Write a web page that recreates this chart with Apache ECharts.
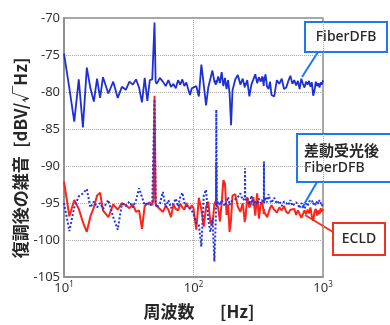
<!DOCTYPE html>
<html>
<head>
<meta charset="utf-8">
<script src="https://cdn.jsdelivr.net/npm/echarts@6/dist/echarts.min.js"></script>
<style>
    html, body { margin: 0; padding: 0; background: #fff; }
    #noise-chart { width: 390px; height: 325px; }
</style>
</head>
<body>
<div id="noise-chart"></div>
<script>
    // 周波数 [Hz]
    const freqs = [10, 11, 12, 13, 14, 15, 16, 17, 18, 19, 20,
        22, 24, 26, 28, 30, 32, 34, 36, 38, 40, 42, 44, 46, 48, 49, 50, 51, 52,
        55, 58, 61, 64, 67, 70, 73, 76, 79, 82, 85, 88, 91, 94, 97, 100,
        105, 110, 115, 120, 125, 130, 135, 140, 145, 149, 150, 151, 155, 160, 165, 170, 175, 180, 185, 190, 195, 200,
        210, 220, 230, 240, 249, 250, 251, 260, 270, 280, 290, 300, 310, 320, 330, 340, 349, 350, 351, 360, 370, 380, 390, 400,
        420, 440, 460, 480, 500, 520, 540, 560, 580, 600, 620, 640, 660, 680, 700, 720, 740, 760, 780, 800,
        820, 840, 860, 880, 900, 920, 940, 960, 980, 1000];

    // FiberDFB [dBV/√Hz]
    const fiberDfb = [-74.8, -79.5, -84.0, -78.3, -84.8, -76.7, -79.5, -81.3, -78.2, -80.8, -78.0,
        -80.2, -78.6, -80.8, -79.3, -79.7, -78.6, -79.0, -78.3, -79.4, -81.4, -78.1, -81.2, -78.4, -78.3, -78.5, -70.6, -78.6, -78.9,
        -78.1, -78.6, -79.2, -78.4, -79.3, -78.9, -79.5, -78.4, -79.0, -78.3, -79.2, -78.7, -79.6, -80.4, -79.5, -79.6,
        -79.2, -80.6, -76.3, -79.0, -81.8, -79.4, -78.2, -77.1, -78.6, -79.0, -78.4, -78.8, -77.9, -78.8, -77.3, -79.2, -78.1, -79.6, -78.4, -80.2, -84.5, -79.8,
        -78.3, -77.7, -79.0, -78.2, -79.4, -78.8, -79.2, -78.4, -80.6, -79.0, -78.3, -77.6, -78.8, -78.0, -78.6, -77.9, -79.2, -78.0, -78.6, -77.6, -79.3, -79.6, -78.6, -80.4,
        -80.6, -78.4, -78.9, -78.2, -79.6, -79.4, -78.5, -77.8, -78.9, -78.4, -79.1, -78.5, -79.6, -78.2, -78.9, -79.4, -78.6, -79.0, -78.5, -79.3,
        -78.7, -80.5, -79.8, -78.6, -79.2, -78.8, -79.4, -78.7, -79.0, -78.4];

    // ECLD
    const ecld = [-92.1, -96.8, -94.6, -95.8, -97.6, -98.9, -96.8, -95.6, -94.0, -93.6, -96.0,
        -96.9, -95.2, -95.9, -95.0, -95.3, -95.7, -95.2, -96.2, -96.0, -98.5, -95.4, -95.1, -94.9, -95.3, -94.6, -80.5, -95.0, -95.4,
        -95.8, -96.2, -95.4, -95.9, -96.9, -95.2, -95.8, -96.0, -95.1, -95.6, -95.9, -95.0, -95.5, -95.8, -95.3, -95.7,
        -98.6, -94.3, -95.9, -98.2, -95.5, -94.8, -97.6, -98.0, -95.1, -94.7, -89.5, -95.2, -95.6, -97.5, -95.0, -91.9, -92.4, -96.6, -95.2, -98.9, -97.2, -94.0,
        -93.8, -95.5, -96.2, -95.0, -97.6, -96.8, -97.3, -94.2, -95.6, -95.0, -94.2, -96.7, -93.7, -97.1, -95.2, -94.8, -96.5, -95.8, -96.2, -96.0, -96.9, -96.3, -95.7, -95.3,
        -95.9, -96.3, -95.6, -96.0, -95.4, -96.2, -96.4, -95.9, -96.1, -95.8, -96.6, -96.0, -96.5, -97.0, -97.2, -96.0, -96.5, -95.9, -96.4, -95.6,
        -96.8, -97.4, -96.2, -95.8, -96.7, -96.0, -96.5, -95.7, -96.2, -95.8];

    // 差動受光後 FiberDFB
    const diffFiberDfb = [-95.0, -98.8, -95.6, -94.1, -93.7, -93.1, -95.6, -94.8, -95.6, -95.0, -95.8,
        -94.6, -96.9, -98.6, -95.1, -95.4, -94.8, -95.6, -94.6, -93.0, -94.2, -95.3, -94.9, -95.4, -95.0, -94.8, -81.0, -95.2, -95.6,
        -95.1, -93.5, -95.6, -94.6, -95.7, -95.0, -94.4, -95.5, -94.2, -93.6, -95.0, -95.4, -95.2, -95.7, -96.0, -96.5,
        -97.7, -98.0, -100.9, -94.0, -93.2, -97.3, -98.9, -97.0, -102.9, -96.5, -82.4, -95.5, -94.8, -95.3, -94.6, -95.1, -95.4, -94.9, -94.2, -95.3, -94.8, -95.0,
        -94.5, -94.2, -93.7, -94.6, -94.4, -90.3, -94.6, -94.3, -95.2, -94.0, -95.3, -94.7, -95.2, -94.4, -95.0, -94.6, -94.9, -89.4, -95.0, -94.2, -94.9, -93.8, -94.6, -95.0,
        -94.3, -95.1, -94.7, -95.4, -94.8, -95.0, -95.3, -94.6, -95.4, -95.6, -94.9, -95.2, -95.7, -95.0, -95.3, -95.8, -95.1, -95.4, -94.8, -95.0,
        -94.6, -95.2, -94.9, -95.3, -94.7, -95.1, -94.6, -95.0, -95.4, -95.0];

    const yTicks = { min: -105, max: -70, interval: 5 };

    const toPairs = (values) => freqs.map((f, i) => [f, values[i]]);

    const boxBlue = "#1f78f2";
    const boxRed = "#f0321e";
    const textColor = "#262626";
    const jpBold = "bold 17px 'Noto Sans CJK JP', sans-serif";

    let eChart = echarts.init(document.getElementById("noise-chart"), null, { renderer: "canvas" });
    eChart.setOption({
        animation: false,
        textStyle: {
            fontFamily: "'Noto Sans', 'Noto Sans CJK JP', sans-serif"
        },
        grid: {
            left: 64,
            right: 67,
            top: 18,
            bottom: 48,
            show: true,
            borderColor: "#8a8a8a",
            borderWidth: 1.5,
            backgroundColor: "transparent"
        },
        xAxis: {
            type: "log",
            logBase: 10,
            min: 10,
            max: 1000,
            axisLine: { show: true, lineStyle: { color: "#8a8a8a", width: 1.5 } },
            axisTick: { show: false },
            axisLabel: {
                margin: 4,
                color: "#333",
                formatter: (v) => "10{s|" + Math.round(Math.log10(v)) + "}",
                rich: {
                    s: { fontSize: 8, verticalAlign: "top", padding: [0, 0, 6, 0], color: "#333" }
                },
                fontSize: 13
            },
            splitLine: { show: true, lineStyle: { color: "#a8a8a8", type: "dotted", width: 1 } }
        },
        yAxis: {
            type: "value",
            min: yTicks.min,
            max: yTicks.max,
            interval: yTicks.interval,
            axisLine: { show: true, lineStyle: { color: "#8a8a8a", width: 1.5 } },
            axisTick: { show: false },
            axisLabel: { margin: 4, color: "#333", fontSize: 13 },
            splitLine: { show: true, lineStyle: { color: "#a8a8a8", type: "dotted", width: 1 } }
        },
        series: [
            {
                name: "FiberDFB",
                type: "line",
                symbol: "none",
                data: toPairs(fiberDfb),
                lineStyle: { color: "#1e2fd6", width: 1.8 }
            },
            {
                name: "ECLD",
                type: "line",
                symbol: "none",
                data: toPairs(ecld),
                lineStyle: { color: "#ff2318", width: 2 }
            },
            {
                name: "差動受光後FiberDFB",
                type: "line",
                symbol: "none",
                data: toPairs(diffFiberDfb),
                lineStyle: { color: "#2436e0", width: 2, type: "dotted" }
            }
        ],
        graphic: [
            // 軸名
            { type: "text", x: 21, y: 158, rotation: Math.PI / 2, style: { text: "復調後の雑音\u2002[dBV/√Hz]", fill: textColor, font: jpBold, align: "center", verticalAlign: "middle" } },
            { type: "text", x: 199, y: 312, style: { text: "周波数\u3000\u2002[Hz]", fill: textColor, font: jpBold, align: "center", verticalAlign: "middle" } },

            // 注釈
            { type: "line", shape: { x1: 318, y1: 52, x2: 302, y2: 77 }, style: { stroke: boxBlue, lineWidth: 2 } },
            { type: "rect", shape: { x: 305, y: 22, width: 82, height: 30 }, style: { fill: "#fff", stroke: boxBlue, lineWidth: 2 } },
            { type: "text", x: 346, y: 37, style: { text: "FiberDFB", fill: textColor, font: "500 14px 'Noto Sans', sans-serif", align: "center", verticalAlign: "middle" } },

            { type: "line", shape: { x1: 317, y1: 182, x2: 302, y2: 208 }, style: { stroke: boxBlue, lineWidth: 2 } },
            { type: "rect", shape: { x: 297, y: 134, width: 100, height: 48 }, style: { fill: "#fff", stroke: boxBlue, lineWidth: 2 } },
            { type: "text", x: 304, y: 150, style: { text: "差動受光後", fill: textColor, font: "bold 15px 'Noto Sans CJK JP', sans-serif", align: "left", verticalAlign: "middle" } },
            { type: "text", x: 304, y: 168, style: { text: "FiberDFB", fill: textColor, font: "500 14px 'Noto Sans', sans-serif", align: "left", verticalAlign: "middle" } },

            { type: "line", shape: { x1: 333, y1: 232, x2: 305, y2: 215 }, style: { stroke: boxRed, lineWidth: 2 } },
            { type: "rect", shape: { x: 333, y: 223, width: 52, height: 32 }, style: { fill: "#fff", stroke: boxRed, lineWidth: 2 } },
            { type: "text", x: 359, y: 239, style: { text: "ECLD", fill: textColor, font: "500 14px 'Noto Sans', sans-serif", align: "center", verticalAlign: "middle" } }
        ]
    }, true);
</script>
</body>
</html>
